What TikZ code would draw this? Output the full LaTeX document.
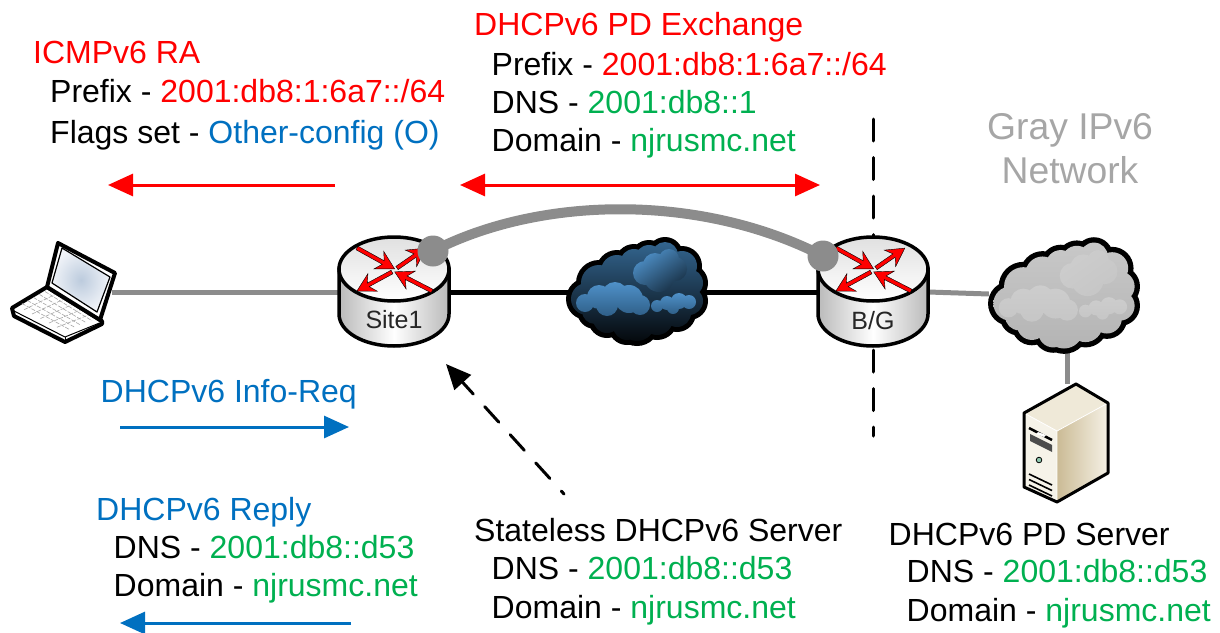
\documentclass[tikz,border=0pt]{standalone}
\usepackage{fontspec}
\setmainfont{Liberation Sans}
\usetikzlibrary{arrows.meta,calc}
\definecolor{rd}{HTML}{FF0000}
\definecolor{gn}{HTML}{00B050}
\definecolor{bl}{HTML}{0070C0}
\definecolor{lnk}{HTML}{8C8C8C}
\definecolor{gtxt}{HTML}{A6A6A6}
\definecolor{cltop}{HTML}{33658F}
\definecolor{clbot}{HTML}{05090D}
\definecolor{pufft}{HTML}{4F91C9}
\definecolor{puffb}{HTML}{2F5F88}
\definecolor{gctop}{HTML}{C8C8C8}
\definecolor{gcbot}{HTML}{B4B4B4}
\definecolor{gpt}{HTML}{CDCDCD}
\definecolor{gpb}{HTML}{C6C6C6}
\definecolor{srvtop}{HTML}{EFE9D8}
\definecolor{srvfront}{HTML}{F6F3E9}
\definecolor{srvside}{HTML}{CBBB95}
\definecolor{srvlight}{HTML}{F5F1E6}
\definecolor{scr}{HTML}{BCCBDD}
\definecolor{scro}{HTML}{F0F3F8}
\definecolor{led}{HTML}{8FC9B0}
\newcommand{\cloudcircles}[1]{%
  (-50,8) circle[radius=16pt+#1] (-38,-8) circle[radius=18pt+#1] (-20,-20) circle[radius=16pt+#1]
  (-3,-28) circle[radius=14pt+#1] (12,-32) circle[radius=14pt+#1] (28,-36) circle[radius=13pt+#1]
  (45,-25) circle[radius=15pt+#1] (52,-8) circle[radius=14pt+#1] (52,10) circle[radius=14pt+#1]
  (40,22) circle[radius=14pt+#1] (20,28) circle[radius=16pt+#1] (0,32) circle[radius=18pt+#1]
  (-10,35) circle[radius=14pt+#1] (-30,28) circle[radius=14pt+#1] (-42,20) circle[radius=13pt+#1]
  (0,0) circle[radius=35pt+#1] (-20,5) circle[radius=30pt+#1] (25,0) circle[radius=30pt+#1]}
\newcommand{\puffone}{(-52,12) circle[radius=9pt] (-38,6) circle[radius=12pt] (-22,4) circle[radius=13pt] (-8,8) circle[radius=14pt] (3,14) circle[radius=10pt] (-30,14) circle[radius=11pt]}
\newcommand{\pufftwo}{(8,-18) circle[radius=12pt] (18,-26) circle[radius=12pt] (32,-32) circle[radius=10pt] (38,-22) circle[radius=12pt] (22,-14) circle[radius=15pt]}
\newcommand{\puffthree}{(20,15) circle[radius=6pt] (30,12) circle[radius=7pt] (42,10) circle[radius=8pt] (52,11) circle[radius=7pt] (36,17) circle[radius=6pt]}
\newcommand{\rtarrow}[4]{%
  \filldraw[fill=red,draw=black,line width=.4pt,shift={(#1,#2)},rotate=#3]
    (0,-2) -- (#4-13,-2) -- (#4-18,-10) -- (#4,0) -- (#4-18,10) -- (#4-13,2) -- (0,2) -- cycle;}
\tikzset{
  txt/.style={anchor=base west,inner sep=0pt,font=\fontsize{32}{38}\selectfont},
  bigtxt/.style={anchor=base,inner sep=0pt,text=gtxt,font=\fontsize{37.3}{42}\selectfont},
  rlabel/.style={anchor=base,inner sep=0pt,text=black!85,font=\fontsize{25}{30}\selectfont},
  hidden/.style={inner sep=0pt,minimum width=#1,minimum height=109pt},
  greylink/.style={draw=lnk,line width=5pt},
  blacklink/.style={draw=black,line width=5pt},
  pddot/.style={circle,fill=lnk,inner sep=0pt,minimum size=31pt},
  sig/.style={line width=3pt,-{Triangle[length=25pt,width=22pt]}},
  sigboth/.style={line width=3pt,{Triangle[length=25pt,width=22pt]}-{Triangle[length=25pt,width=22pt]}},
  router/.pic={
    \path[draw=black,line width=3.5pt,left color=black!27,right color=black!27,middle color=white]
      (-55,0) -- (-55,45) .. controls (-55,62.7) and (-30.4,77) .. (0,77)
      .. controls (30.4,77) and (55,62.7) .. (55,45) -- (55,0) -- cycle;
    \path[draw=black,line width=3.5pt,top color=black!12,bottom color=white] (0,0) ellipse[x radius=55pt,y radius=32pt];
    \rtarrow{-37}{-21}{-29}{43}
    \rtarrow{3}{-1}{34.6}{35}
    \rtarrow{-2}{3}{-151.5}{40}
    \rtarrow{38}{22}{152.8}{42}
  }
}
\newcommand{\cloudshape}[8]{%
  \begin{scope}[shift={(#1,#2)},scale=#3]
    \fill[black] \cloudcircles{5pt};
    \shade[top color=#4,bottom color=#5] \cloudcircles{0pt};
    \shade[top color=#6,bottom color=#7] \puffone;
    \shade[top color=#6,bottom color=#8,shading angle=35] \pufftwo;
    \shade[top color=#6,bottom color=#7] \puffthree;
  \end{scope}}
\begin{document}
\begin{tikzpicture}[x=1pt,y=-1pt]
\useasboundingbox (0,0) rectangle (1220,632);
% anchoring nodes
\node[hidden=100pt] (lap) at (62,292) {};
\node[hidden=110pt] (site) at (394,292) {};
\node[hidden=110pt] (bg) at (873,292) {};
\node[hidden=134pt] (dcloud) at (637,292) {};
\node[hidden=150pt,minimum height=116pt] (gcloud) at (1064,294) {};
\node[hidden=84pt,minimum height=118pt] (srv) at (1067,443) {};
% vertical demarcation
\coordinate (vt) at (873,119);
\coordinate (vb) at (873,436);
\draw[line width=3pt,line cap=round,dash pattern=on 22pt off 16.5pt] (vt) -- (vb);
% links
\draw[greylink] (lap.east) -- (site.west);
\draw[blacklink] (site.east) -- (dcloud.west);
\draw[blacklink] (dcloud.east) -- (bg.west);
\draw[greylink] (bg.east) -- (gcloud.west);
\draw[greylink] (gcloud.south -| srv.north) -- (srv.north);
% routers
\pic at (394,269) {router};
\pic at (873,269) {router};
\node[rlabel] (sitel) at (394,328) {Site1};
\node[rlabel] (bgl) at (873,329) {B/G};
% clouds
\cloudshape{637}{291}{1}{cltop}{clbot}{pufft}{puffb}{clbot!55!puffb}
\cloudshape{1064}{295}{1.07}{gctop}{gcbot}{gpt}{gpb}{gpb}
% PD curve
\node[pddot] (pdl) at (433,251) {};
\node[pddot] (pdr) at (823,256) {};
\draw[draw=lnk,line width=10pt] (pdl.center) .. controls (540,196) and (700,193) .. (pdr.center);
% laptop
\begin{scope}[line join=round]
  \filldraw[fill=white,draw=black,line width=4pt] (12,308) -- (47,287) -- (102,321) -- (102,324) -- (65,342) -- (14,316) -- cycle;
  \draw[black,line width=1pt] (14,311) -- (65,337) -- (102,322);
  \draw[black,line width=1pt] (65,337) -- (65,342);
  \foreach \t in {0.15,0.32,0.5,0.68,0.85}{
    \draw[black!35,line width=.6pt,dash pattern=on 4pt off 1.5pt] ($(17,306)!\t!(50,289)$) -- ($(64,331)!\t!(97,319)$);
    \draw[black!35,line width=.6pt,dash pattern=on 4pt off 1.5pt] ($(17,306)!\t!(64,331)$) -- ($(50,289)!\t!(97,319)$);
  }
  \filldraw[fill=white,draw=black,line width=4pt] (58,243) -- (115,273) -- (100,320) -- (47,287) -- cycle;
  \path[draw=black,line width=1.2pt,inner color=scr,outer color=scro] (62,248) -- (110,277) -- (97,312) -- (52,283) -- cycle;
\end{scope}
% server
\begin{scope}[line join=round]
  \path[fill=srvtop] (1076,384) -- (1108,403) -- (1057,431) -- (1024,413) -- cycle;
  \path[fill=srvfront] (1024,413) -- (1057,431) -- (1057,502) -- (1024,487) -- cycle;
  \path[left color=srvside,right color=srvlight] (1057,431) -- (1108,403) -- (1108,473) -- (1057,502) -- cycle;
  \draw[white,line width=.8pt] (1024,413) -- (1057,431) -- (1108,403) (1057,431) -- (1057,502);
  \draw[black,line width=3pt] (1076,384) -- (1108,403) -- (1108,473) -- (1057,502) -- (1024,487) -- (1024,413) -- cycle;
  \draw[black,line width=2.5pt] (1029,428) -- (1052,440);
  \fill[black!70] (1030,434) -- (1052,445) -- (1052,452) -- (1030,441) -- cycle;
  \fill[white] (1038,432) -- (1046,435) -- (1044,437) -- (1036,434) -- cycle;
  \filldraw[fill=led,draw=black,line width=.8pt] (1039,460) circle[radius=2.8pt];
  \foreach \d in {0,5.5,11}{\draw[black,line width=1.6pt] (1029,474+\d) -- (1052,485+\d);}
\end{scope}
% arrows
\coordinate (ra1) at (335,185); \coordinate (ra2) at (108,185);
\draw[sig,rd] (ra1) -- (ra2);
\coordinate (pd1) at (460,185); \coordinate (pd2) at (820,185);
\draw[sigboth,rd] (pd1) -- (pd2);
\coordinate (ir1) at (120,427); \coordinate (ir2) at (349,427);
\draw[sig,bl] (ir1) -- (ir2);
\coordinate (rp1) at (351,623); \coordinate (rp2) at (120,623);
\draw[sig,bl] (rp1) -- (rp2);
\coordinate (ds1) at (564,494); \coordinate (ds2) at (446,364);
\draw[sig,black,line cap=round,dash pattern=on 21pt off 17pt,dash phase=17pt] (ds1) -- (ds2);
% texts
\node[txt,text=rd] (t1) at (33,63) {ICMPv6 RA};
\node[txt] (t2) at (50,102) {Prefix - \textcolor{rd}{2001:db8:1:6a7::/64}};
\node[txt] (t3) at (50,143) {Flags set - \textcolor{bl}{Other-config (O)}};
\node[txt,text=rd] (t4) at (474,35) {DHCPv6 PD Exchange};
\node[txt] (t5) at (491.5,75) {Prefix - \textcolor{rd}{2001:db8:1:6a7::/64}};
\node[txt] (t6) at (491.5,113) {DNS - \textcolor{gn}{2001:db8::1}};
\node[txt] (t7) at (491.5,151) {Domain - \textcolor{gn}{njrusmc.net}};
\node[bigtxt] (t8) at (1070,139) {Gray IPv6};
\node[bigtxt] (t9) at (1070,183) {Network};
\node[txt,text=bl] (t10) at (100.5,402) {DHCPv6 Info-Req};
\node[txt,text=bl] (t11) at (96,520) {DHCPv6 Reply};
\node[txt] (t12) at (113.5,558) {DNS - \textcolor{gn}{2001:db8::d53}};
\node[txt] (t13) at (113.5,596) {Domain - \textcolor{gn}{njrusmc.net}};
\node[txt] (t14) at (474,541) {Stateless DHCPv6 Server};
\node[txt] (t15) at (491.5,579.5) {DNS - \textcolor{gn}{2001:db8::d53}};
\node[txt] (t16) at (491.5,618) {Domain - \textcolor{gn}{njrusmc.net}};
\node[txt] (t17) at (888.5,545) {DHCPv6 PD Server};
\node[txt] (t18) at (906.5,582) {DNS - \textcolor{gn}{2001:db8::d53}};
\node[txt] (t19) at (906.5,621) {Domain - \textcolor{gn}{njrusmc.net}};
\end{tikzpicture}
\end{document}
